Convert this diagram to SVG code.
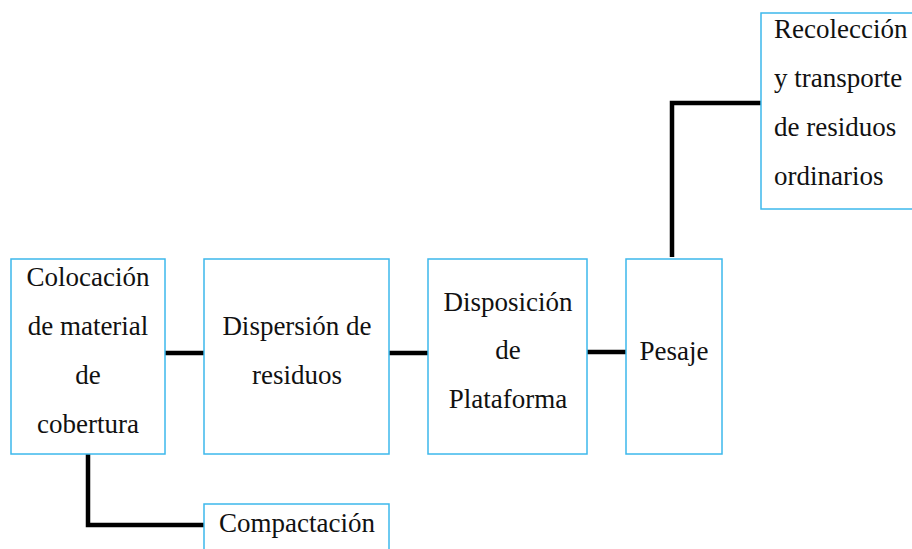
<svg xmlns="http://www.w3.org/2000/svg" width="912" height="549" viewBox="0 0 912 549">
<style>
.box{fill:#fff;stroke:#3DB8EC;stroke-width:1.5}
.t{font-family:'Liberation Serif',serif;font-size:27px;fill:#111}
.c{text-anchor:middle}
.ln{fill:none;stroke:#000;stroke-width:4.5}
</style>
<rect width="912" height="549" fill="#fff"/>
<g id="connectors">
<path class="ln" d="M165 353H204"/>
<path class="ln" d="M389 353H428"/>
<path class="ln" d="M587 352H626"/>
<path class="ln" d="M672 257V103H761"/>
<path class="ln" d="M88 454V525H204"/>
</g>
<g id="n1">
<rect class="box" x="11" y="259" width="154" height="195"/>
<text class="t c" x="88" y="286">Colocación</text>
<text class="t c" x="88" y="335">de material</text>
<text class="t c" x="88" y="384">de</text>
<text class="t c" x="88" y="433">cobertura</text>
</g>
<g id="n2">
<rect class="box" x="204" y="259" width="185" height="195"/>
<text class="t c" x="297" y="335">Dispersión de</text>
<text class="t c" x="297" y="384">residuos</text>
</g>
<g id="n3">
<rect class="box" x="428" y="259" width="159" height="195"/>
<text class="t c" x="508" y="311">Disposición</text>
<text class="t c" x="508" y="359">de</text>
<text class="t c" x="508" y="408">Plataforma</text>
</g>
<g id="n4">
<rect class="box" x="626" y="259" width="96" height="195"/>
<text class="t c" x="674" y="360">Pesaje</text>
</g>
<g id="n5">
<rect class="box" x="761" y="13" width="160" height="196"/>
<text class="t" x="774" y="38">Recolección</text>
<text class="t" x="774" y="87">y transporte</text>
<text class="t" x="774" y="136">de residuos</text>
<text class="t" x="774" y="185">ordinarios</text>
</g>
<g id="n6">
<rect class="box" x="204" y="504" width="185" height="60"/>
<text class="t c" x="297" y="532">Compactación</text>
</g>
</svg>
